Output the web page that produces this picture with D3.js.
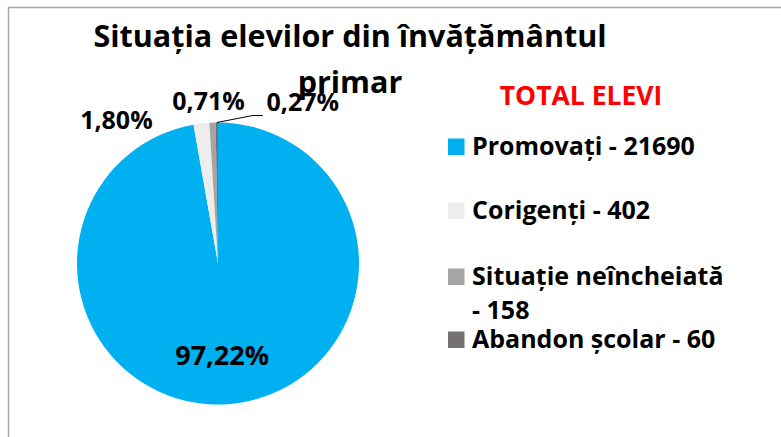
<!DOCTYPE html>
<html>
<head>
<meta charset="utf-8">
<script src="https://cdn.jsdelivr.net/npm/d3@7"></script>
<style>
  html, body { margin: 0; padding: 0; background: #fff; }
  svg { display: block; font-family: "Open Sans", Lato, sans-serif; font-weight: bold; }
</style>
</head>
<body>
<div class="chart-div"></div>
<script>
var width = 781;
var height = 437;

// chart data
var categories = ["Promovați", "Corigenți", "Situație neîncheiată", "Abandon școlar"];
var values = [21690, 402, 158, 60];
var colors = ["#00B0F0", "#EDEDED", "#A5A5A5", "#767171"];
var titleLines = ["Situația elevilor din învățământul", "primar"];
var legendTitle = "TOTAL ELEVI";
// label nudges (px) from the slice anchor point, Excel "best fit" style
var labelShift = [[-4, 9], [-85, 6], [-4, -13], [86, -12]];

var svg = d3.select(".chart-div")
    .append("svg")
        .attr("width", width)
        .attr("height", height);

// outer chart frame (only top/left visible)
svg.append("path")
    .attr("d", "M8.5," + height + "V7.5H" + width)
    .attr("fill", "none")
    .attr("stroke", "#A6A6A6")
    .attr("stroke-width", 1.5);

// title
var title = svg.append("text")
    .attr("x", 350)
    .attr("y", 47)
    .attr("text-anchor", "middle")
    .attr("font-size", "30.5px")
    .attr("fill", "#000");
title.selectAll("tspan")
    .data(titleLines)
    .enter().append("tspan")
        .attr("x", 350)
        .attr("dy", function(d, i) { return i ? 46 : 0; })
        .text(function(d) { return d; });

// pie
var cx = 218, cy = 263.5, radius = 141;
var pie = d3.pie().sort(null).value(function(d) { return d; });
var arcs = pie(values);
var arc = d3.arc().innerRadius(0).outerRadius(radius);
var labelArc = d3.arc().innerRadius(radius * 0.66).outerRadius(radius * 0.66);
var edgeArc = d3.arc().innerRadius(radius).outerRadius(radius);
var total = d3.sum(values);
var pct = d3.formatLocale({decimal: ",", thousands: ".", grouping: [3], currency: ["", ""]}).format(".2%");

var pieG = svg.append("g")
    .attr("transform", "translate(" + cx + "," + cy + ")");

pieG.selectAll("path.slice")
    .data(arcs)
    .enter().append("path")
        .attr("class", "slice")
        .attr("d", arc)
        .attr("fill", function(d, i) { return colors[i]; });

function labelPos(d, i) {
    var p = i === 0 ? labelArc.centroid(d) : edgeArc.centroid(d);
    return [p[0] + labelShift[i][0], p[1] + labelShift[i][1]];
}

// leader line for the smallest slice
var last = arcs.length - 1;
var edge = edgeArc.centroid(arcs[last]);
var lp = labelPos(arcs[last], last);
pieG.append("polyline")
    .attr("points", [edge, [lp[0] - 50, lp[1] + 5], [lp[0] - 40, lp[1] + 5]].map(function(p) { return p.join(","); }).join(" "))
    .attr("fill", "none")
    .attr("stroke", "#000")
    .attr("stroke-width", 1);

pieG.selectAll("text.pct")
    .data(arcs)
    .enter().append("text")
        .attr("class", "pct")
        .attr("text-anchor", "middle")
        .attr("font-size", function(d, i) { return i === 0 ? "27px" : "25px"; })
        .attr("x", function(d, i) { return labelPos(d, i)[0]; })
        .attr("y", function(d, i) { return labelPos(d, i)[1]; })
        .text(function(d) { return pct(d.value / total); });

// legend
svg.append("text")
    .attr("x", 581)
    .attr("y", 105)
    .attr("text-anchor", "middle")
    .attr("font-size", "26.5px")
    .attr("fill", "#FF0000")
    .text(legendTitle);

var legendY = d3.scaleOrdinal()
    .domain(categories)
    .range([155, 219, 285, 348]);

var legend = svg.append("g").attr("class", "legend");
var items = legend.selectAll("g")
    .data(categories)
    .enter().append("g");

items.append("rect")
    .attr("x", 448)
    .attr("y", function(d) { return legendY(d) - 16.5; })
    .attr("width", 16.5)
    .attr("height", 16.5)
    .attr("fill", function(d, i) { return colors[i]; });

items.append("text")
    .attr("x", 472)
    .attr("y", function(d) { return legendY(d); })
    .attr("font-size", "25px")
    .attr("fill", "#000")
    .each(function(d, i) {
        var t = d3.select(this);
        var first = t.append("tspan")
            .attr("x", 472)
            .text(d + " - " + values[i]);
        // too wide for the legend column: move "- value" to its own line
        if (first.node().getComputedTextLength() > 250) {
            first.text(d);
            t.append("tspan")
                .attr("x", 472)
                .attr("dy", 34)
                .text("- " + values[i]);
        }
    });
</script>
</body>
</html>
